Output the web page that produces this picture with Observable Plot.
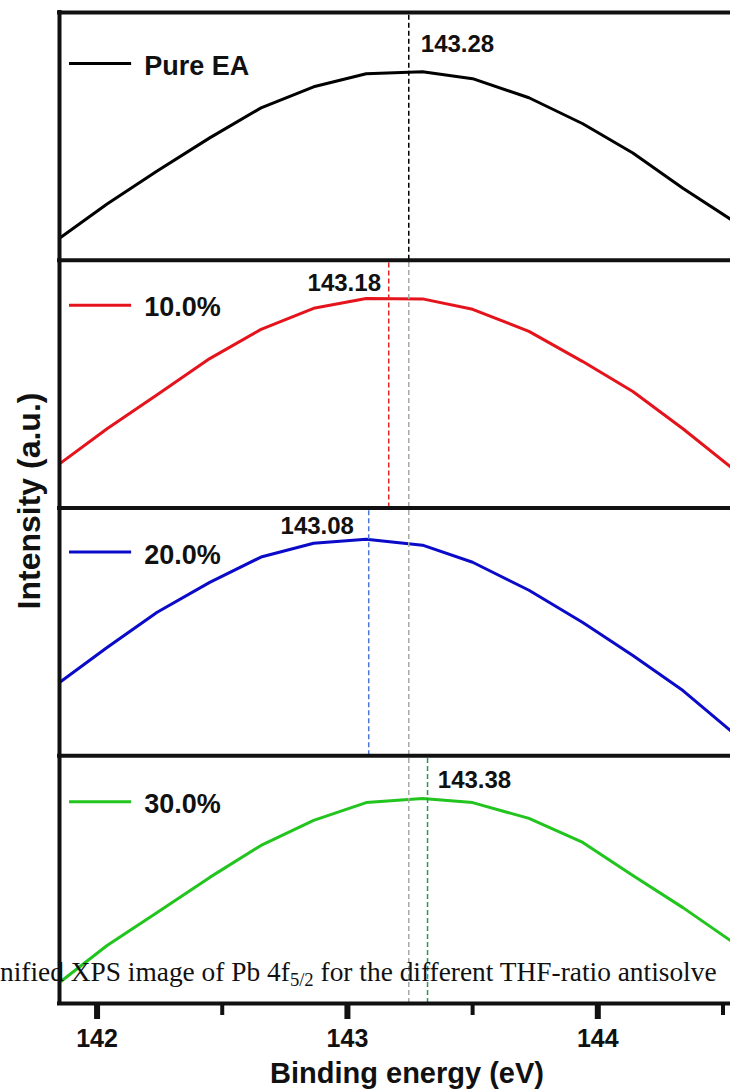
<!DOCTYPE html>
<html>
<head>
<meta charset="utf-8">
<script src="https://cdn.jsdelivr.net/npm/d3@7"></script>
<script src="https://cdn.jsdelivr.net/npm/@observablehq/plot@0.6"></script>
<style>
  html, body { margin: 0; padding: 0; background: #fff; overflow: hidden; }
  #wrap { position: relative; width: 730px; height: 1091px; }
  #caption {
    position: absolute; left: 0px; top: 959px;
    font-family: "Liberation Serif", "Times New Roman", serif;
    font-size: 27.4px; line-height: 1; white-space: nowrap; color: #111;
  }
  #caption sub { font-size: 0.68em; line-height: 0; vertical-align: -0.28em; }
</style>
</head>
<body>
<div id="wrap">
  <div id="chart"></div>
  <div id="caption">nified XPS image of Pb 4f<sub>5/2</sub> for the different THF-ratio antisolve</div>
</div>
<script>
// ---- data ----
const series = ["Pure EA", "10.0%", "20.0%", "30.0%"];
const colors = ["#000000", "#e5141c", "#0a0ac8", "#22c41e"];
const dashColors = ["#000000", "#e02828", "#4a78d8", "#1f9a5a"];
const refColor = "#a8a8a8";

// binding energy grid (eV)
const energy = [141.85, 142.04, 142.24, 142.45, 142.655, 142.865, 143.075, 143.30, 143.50, 143.725, 143.94, 144.14, 144.34, 144.53];
// normalised intensities (a.u.) per sample
const pureEA = [8.9, 22.7, 36.0, 49.4, 61.5, 70.0, 75.3, 76.1, 73.3, 65.6, 55.1, 43.3, 29.1, 16.6];
const thf10  = [17.8, 32.0, 45.7, 60.3, 72.1, 80.6, 84.6, 84.4, 80.2, 71.3, 59.1, 47.0, 32.0, 16.6];
const thf20  = [29.6, 43.7, 57.9, 70.0, 80.2, 85.8, 87.4, 85.0, 78.1, 66.8, 53.8, 40.5, 26.3, 10.1];
const thf30  = [8.5, 23.4, 36.7, 50.9, 63.8, 73.9, 81.1, 82.7, 81.1, 74.7, 65.0, 51.7, 38.7, 25.4];
const intensities = [pureEA, thf10, thf20, thf30];

// peak positions
const peakLabels = ["143.28", "143.18", "143.08", "143.38"];
const peakMarks = [143.245, 143.165, 143.085, 143.32];
const refPeak = 143.245;

// axis ticks
const majorTicks = [142, 143, 144];
const minorTicks = [142.5, 143.5, 144.5];

// ---- annotation layout (data units) ----
const labelX = [143.293, 143.134, 143.026, 143.361];
const labelAnchor = ["start", "end", "end", "start"];
const labelY = [83.9, 87.5, 89.5, 87.1];
const legendLineY = [79.4, 81.8, 82.2, 81.4];
const legendTextY = [74.6, 77.4, 77.4, 77.0];
const legendX1 = 141.888, legendX2 = 142.136, legendTextX = 142.188;

const PANEL = 100;
const offset = i => (series.length - 1 - i) * PANEL;

const rows = series.flatMap((s, i) =>
  energy.map((e, j) => ({series: s, e, I: intensities[i][j], y: intensities[i][j] + offset(i)}))
);

const font = "Arial, 'Liberation Sans', Helvetica, sans-serif";

const marks = [
  // spectra
  Plot.line(rows, {x: "e", y: "y", z: "series", stroke: "series", strokeWidth: 3, strokeLinejoin: "round"}),
  // grey reference line through lower panels
  Plot.ruleX([refPeak], {y1: 0, y2: 3 * PANEL, stroke: refColor, strokeWidth: 1.5, strokeDasharray: "5,3"}),
  // per-panel peak lines and labels
  ...series.flatMap((s, i) => [
    Plot.ruleX([peakMarks[i]], {y1: offset(i), y2: offset(i) + PANEL, stroke: dashColors[i], strokeWidth: 1.5, strokeDasharray: "5,3"}),
    Plot.text([peakLabels[i]], {x: labelX[i], y: labelY[i] + offset(i), text: d => d, textAnchor: labelAnchor[i], lineAnchor: "bottom", fontSize: 24, fill: "#111"}),
    Plot.link([s], {x1: legendX1, x2: legendX2, y1: legendLineY[i] + offset(i), y2: legendLineY[i] + offset(i), stroke: colors[i], strokeWidth: 3}),
    Plot.text([s], {x: legendTextX, y: legendTextY[i] + offset(i), text: d => d, textAnchor: "start", lineAnchor: "bottom", fontSize: 27, fill: "#111"})
  ]),
  // frame
  Plot.ruleY(d3.range(0, series.length + 1).map(k => k * PANEL), {strokeWidth: 4, strokeLinecap: "square"}),
  Plot.ruleX([energy[0]], {strokeWidth: 4, strokeLinecap: "square"}),
  // x axis
  Plot.axisX({ticks: majorTicks, tickSize: 16, strokeWidth: 6, tickPadding: 10, fontSize: 25, tickFormat: d => String(d), label: null}),
  Plot.axisX({ticks: minorTicks, tickSize: 12, strokeWidth: 4, tickFormat: () => "", label: null}),
  // axis titles
  Plot.text(["Binding energy (eV)"], {frameAnchor: "bottom", text: d => d, dy: 79, dx: 12, lineAnchor: "bottom", fontSize: 29, fill: "#111"}),
  Plot.text(["Intensity (a.u.)"], {frameAnchor: "left", text: d => d, rotate: -90, dx: -20, dy: -7, textAnchor: "middle", lineAnchor: "bottom", fontSize: 32, fill: "#111"})
];

const chart = Plot.plot({
  width: 730,
  height: 1091,
  marginTop: 12,
  marginBottom: 88,
  marginLeft: 59,
  marginRight: 0,
  x: {domain: [141.85, 144.53]},
  y: {domain: [0, series.length * PANEL], axis: null},
  color: {domain: series, range: colors},
  style: {fontFamily: font, fontWeight: "bold", background: "white", color: "#111", overflow: "visible"},
  marks
});
document.getElementById("chart").appendChild(chart);
</script>
</body>
</html>
